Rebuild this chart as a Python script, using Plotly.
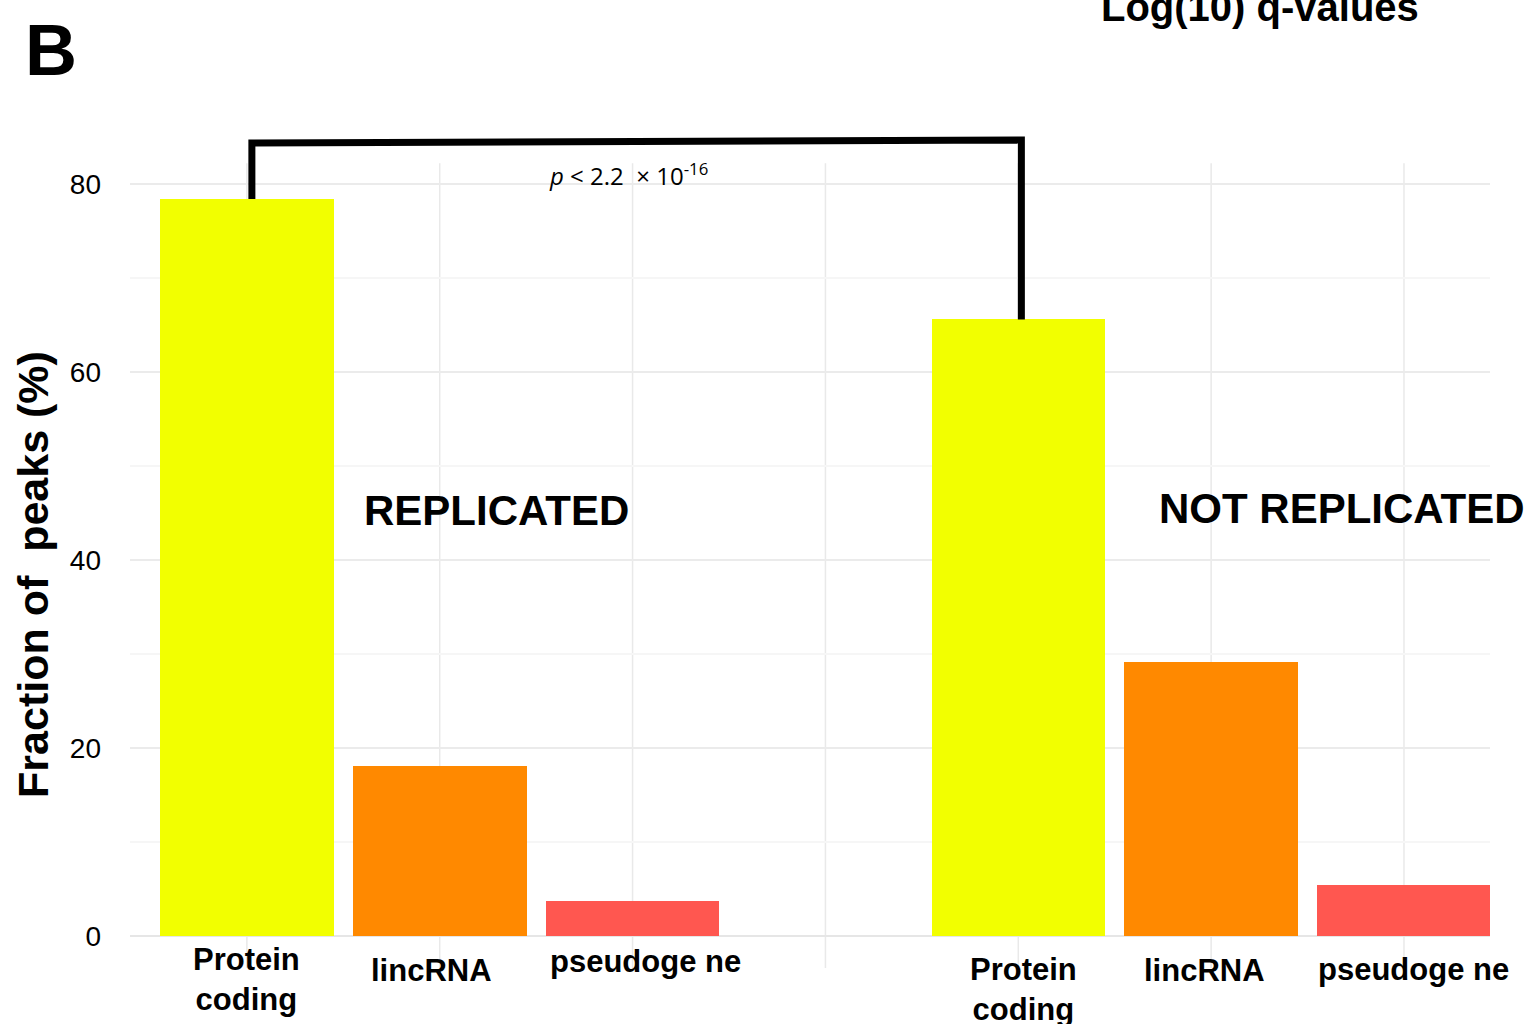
import plotly.graph_objects as go

# Peak annotation breakdown, replicated vs. not replicated peaks
categories = ["Protein<br>coding", "lincRNA", "pseudoge ne"]
groups = ["REPLICATED", "NOT REPLICATED"]
replicated = [78.4, 18.1, 3.7]
not_replicated = [65.6, 29.1, 5.4]
bar_colors = ["#F2FF00", "#FF8900", "#FF5750"]
y_ticks = [0, 20, 40, 60, 80]
p_label = "<i>p</i> < 2.2  × 10<sup>-16</sup>"

# slot positions: three bars, an empty slot, three bars
slots_a = [0, 1, 2]
slots_b = [4, 5, 6]
all_slots = list(range(7))

fig = go.Figure()
fig.add_trace(go.Bar(x=slots_a, y=replicated, marker=dict(color=bar_colors, line=dict(width=0)),
                     width=0.9, showlegend=False))
fig.add_trace(go.Bar(x=slots_b, y=not_replicated, marker=dict(color=bar_colors, line=dict(width=0)),
                     width=0.9, showlegend=False))

shapes = []
# vertical grid lines at every slot
for s in all_slots:
    shapes.append(dict(type="line", xref="x", yref="y", x0=s, x1=s, y0=-3.4, y1=82.2,
                       line=dict(color="#e9e9e9", width=1.5), layer="below"))
# significance bracket between the two protein-coding bars
bx0, bx1 = slots_a[0] + 0.026, slots_b[0] + 0.016
shapes.append(dict(type="path", xref="x", yref="y",
                   path=f"M {bx0},{replicated[0]} L {bx0},84.36 L {bx1},84.68 L {bx1},{not_replicated[0]}",
                   line=dict(color="black", width=7)))

annotations = []
# category labels under each bar
label_font = dict(family="Liberation Sans", size=31, color="black", weight="bold")
xshifts = [0, -8, 13, 5, -7, 10]
yshifts = [-43, -34, -25, -53, -34, -33]
for i, (s, lab) in enumerate(zip(slots_a + slots_b, categories + categories)):
    annotations.append(dict(x=s, y=0, xref="x", yref="y", text=lab, showarrow=False,
                            xanchor="center", yanchor="middle", xshift=xshifts[i], yshift=yshifts[i],
                            font=label_font))

# group headings
group_font = dict(family="Liberation Sans", size=42, color="black", weight="bold")
annotations.append(dict(x=1.295, y=45.3, xref="x", yref="y", text=groups[0], showarrow=False,
                        xanchor="center", yanchor="middle", font=group_font))
annotations.append(dict(x=5.676, y=45.5, xref="x", yref="y", text=groups[1], showarrow=False,
                        xanchor="center", yanchor="middle", font=group_font))

# p-value over the bracket
annotations.append(dict(x=1.98, y=81.0, xref="x", yref="y", text=p_label, showarrow=False,
                        xanchor="center", yanchor="middle",
                        font=dict(family="Open Sans", size=24, color="black")))

# y axis title
annotations.append(dict(x=-0.0713, y=0.468, xref="paper", yref="paper",
                        text="Fraction of  peaks (%)", textangle=-90, showarrow=False,
                        xanchor="center", yanchor="middle",
                        font=dict(family="Liberation Sans", size=43, color="black", weight="bold")))

# panel letter and header
annotations.append(dict(x=-0.058, y=1.093, xref="paper", yref="paper", text="B", showarrow=False,
                        xanchor="center", yanchor="middle",
                        font=dict(family="Liberation Sans", size=72, color="black", weight="bold")))
annotations.append(dict(x=0.831, y=1.1435, xref="paper", yref="paper", text="Log(10) q-values",
                        showarrow=False, xanchor="center", yanchor="middle",
                        font=dict(family="Liberation Sans", size=40, color="black", weight="bold")))

fig.update_layout(
    width=1532, height=1024,
    margin=dict(l=130, r=42, t=128, b=56),
    paper_bgcolor="white", plot_bgcolor="white",
    bargap=0,
    shapes=shapes, annotations=annotations,
    xaxis=dict(range=[-0.606, 6.446], showgrid=False, zeroline=False, showticklabels=False,
               ticks="", showline=False, fixedrange=True),
    yaxis=dict(range=[-3.4, 85.96], tickvals=y_ticks, showgrid=True, gridcolor="#ebebeb", gridwidth=1.5,
               zeroline=True, zerolinecolor="#e6e6e6", zerolinewidth=1.5,
               minor=dict(dtick=10, tick0=0, showgrid=True, gridcolor="#f6f6f6", gridwidth=1.5),
               ticks="", ticklabelstandoff=28, showline=False,
               tickfont=dict(family="Liberation Sans", size=28, color="black")),
    font=dict(family="Liberation Sans"),
)

fig.write_html("out.html")
